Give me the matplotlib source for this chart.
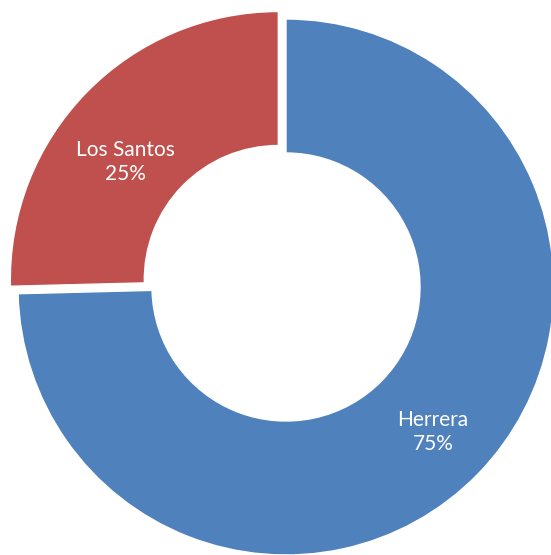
import matplotlib
matplotlib.use("Agg")
import matplotlib.pyplot as plt

categories = ["Herrera", "Los Santos"]
values = [74.6, 25.4]
colors = ["#4F81BD", "#C0504D"]
explode = [0.0, 0.04]

W, H = 551, 555
fig = plt.figure(figsize=(W / 100, H / 100), dpi=100)
ax = fig.add_axes([0, 0, 1, 1])

cx, cy, R = 286, 287, 268

wedges, _ = ax.pie(values, colors=colors, startangle=90, counterclock=False,
                   explode=explode, radius=1.0,
                   wedgeprops=dict(width=0.5, edgecolor="white", linewidth=1))

ax.set_xlim(-cx / R, (W - cx) / R)
ax.set_ylim((cy - H) / R, cy / R)
ax.set_aspect("auto")
ax.axis("off")

total = sum(values)
label_pos = [(433, 432), (125, 162)]
for cat, v, (px, py) in zip(categories, values, label_pos):
    ax.text((px - cx) / R, (cy - py) / R, f"{cat}\n{round(v / total * 100):.0f}%",
            ha="center", va="center", color="white", fontsize=15,
            family=["Lato", "DejaVu Sans"], linespacing=1.3)

fig.savefig("out.png", dpi=100)
